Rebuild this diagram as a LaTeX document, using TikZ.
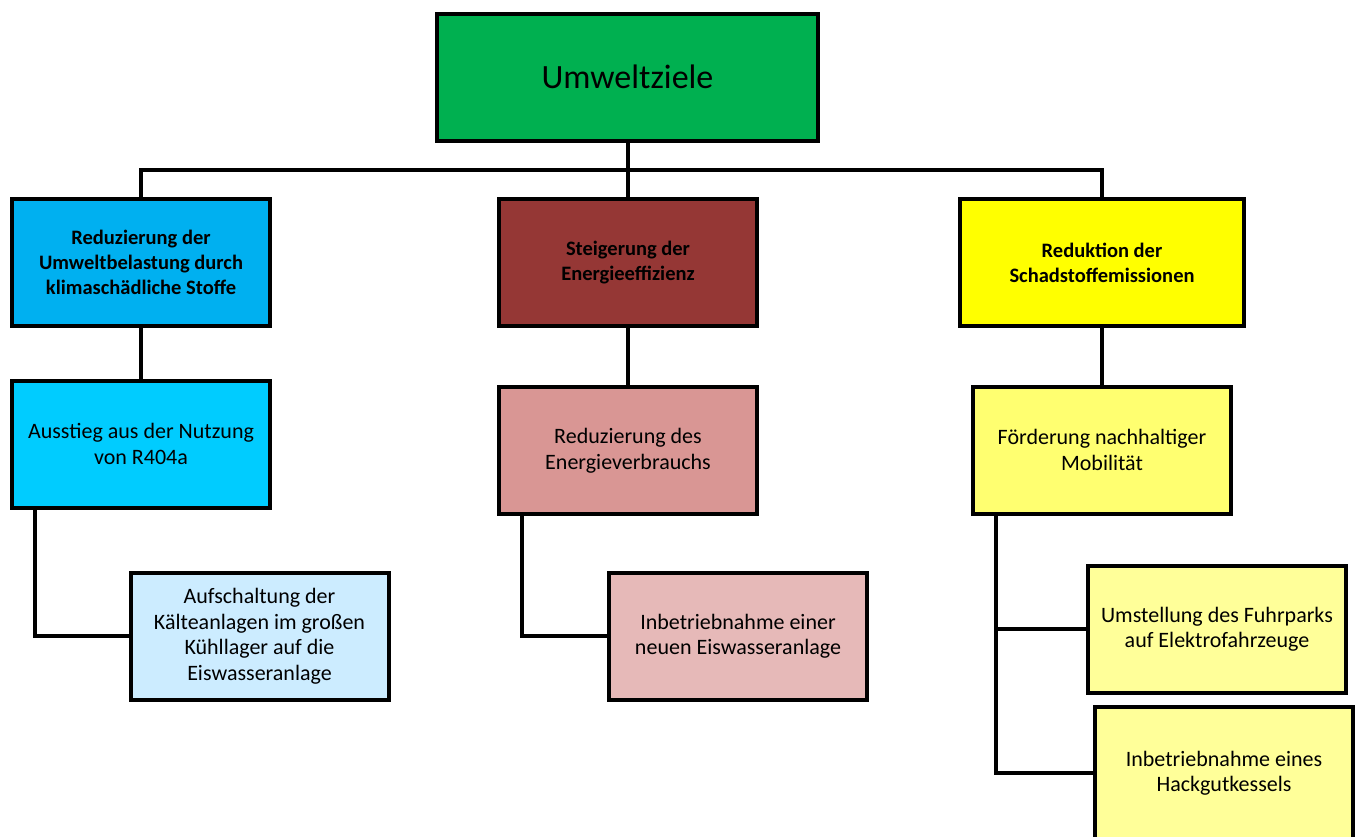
\documentclass[tikz,border=0pt]{standalone}
\usepackage{fontspec}
\setmainfont{Carlito}
\definecolor{cgreen}{HTML}{00B050}
\definecolor{cA1}{HTML}{00B0F0}
\definecolor{cB1}{HTML}{953735}
\definecolor{cC1}{HTML}{FFFF00}
\definecolor{cA2}{HTML}{00CCFF}
\definecolor{cB2}{HTML}{D99694}
\definecolor{cC2}{HTML}{FFFF70}
\definecolor{cA3}{HTML}{CCECFF}
\definecolor{cB3}{HTML}{E6B9B8}
\definecolor{cC3}{HTML}{FFFF99}
\tikzset{
  box/.style={draw=black, line width=4pt, rectangle, align=center, inner sep=0pt,
    minimum width=258pt, minimum height=127pt, font=\fontsize{22}{25.5}\selectfont},
  head/.style={box, font=\bfseries\fontsize{20.5}{25}\selectfont},
  conn/.style={draw=black, line width=4pt},
}
\begin{document}
\begin{tikzpicture}[x=1pt,y=-1pt]
\useasboundingbox (0,0) rectangle (1362,836);
\node[box, fill=cgreen, minimum width=381pt, font=\fontsize{34}{38}\selectfont] (top) at (627.5,77) {Umweltziele};
\coordinate (bus) at (0,170);
% level 1
\node[head, fill=cA1] (a1) at (141,262.5) {Reduzierung der\\Umweltbelastung durch\\klimaschädliche Stoffe};
\node[head, fill=cB1] (b1) at (628,262.5) {Steigerung der\\Energieeffizienz};
\node[head, fill=cC1, minimum width=284pt] (c1) at (1102,262.5) {Reduktion der\\Schadstoffemissionen};
% level 2
\node[box, fill=cA2] (a2) at (141,444) {Ausstieg aus der Nutzung\\von R404a};
\node[box, fill=cB2] (b2) at (628,450.5) {Reduzierung des\\Energieverbrauchs};
\node[box, fill=cC2] (c2) at (1102,450) {Förderung nachhaltiger\\Mobilität};
% level 3
\node[box, fill=cA3] (a3) at (259.5,636) {Aufschaltung der\\Kälteanlagen im großen\\Kühllager auf die\\Eiswasseranlage};
\node[box, fill=cB3] (b3) at (738,636) {Inbetriebnahme einer\\neuen Eiswasseranlage};
\node[box, fill=cC3] (c3) at (1217,629) {Umstellung des Fuhrparks\\auf Elektrofahrzeuge};
\node[box, fill=cC3, minimum height=133pt] (c4) at (1224,773) {Inbetriebnahme eines\\Hackgutkessels};
% connectors
\draw[conn] (top.south) -- (top.south |- bus);
\draw[conn] (a1.north) -- (a1.north |- bus) -- (c1.north |- bus) -- (c1.north);
\draw[conn] (b1.north) -- (b1.north |- bus);
\draw[conn] (a1.south) -- (a2.north);
\draw[conn] (b1.south) -- (b2.north);
\draw[conn] (c1.south) -- (c2.north);
\draw[conn] ([xshift=25pt]a2.south west) |- (a3.west);
\draw[conn] ([xshift=25pt]b2.south west) |- (b3.west);
\draw[conn] ([xshift=25pt]c2.south west) coordinate (cs) |- (c4.west);
\draw[conn] (c3.west) -- (c3.west -| cs);
\end{tikzpicture}
\end{document}
